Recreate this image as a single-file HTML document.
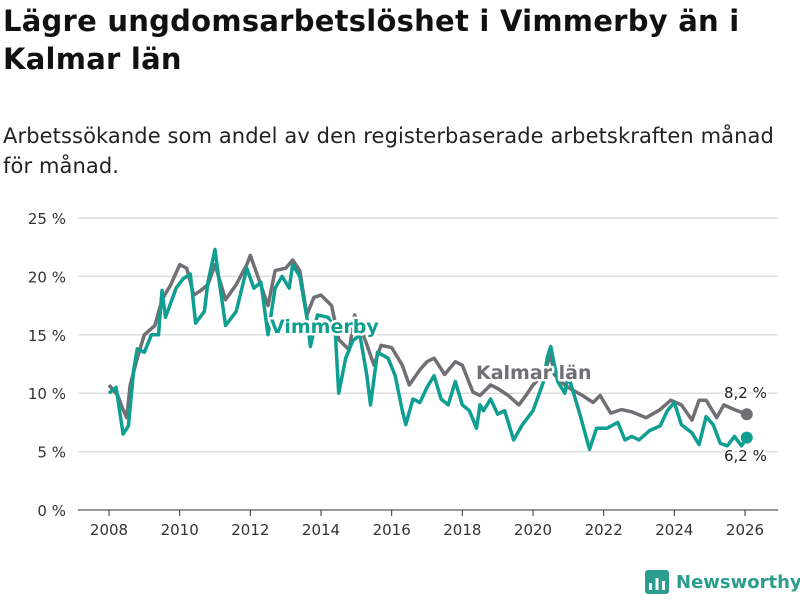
<!DOCTYPE html>
<html><head><meta charset="utf-8"><style>
body{margin:0;width:800px;height:600px;background:#fff;font-family:"DejaVu Sans","Liberation Sans",sans-serif;overflow:hidden;position:relative}
h1{position:absolute;left:3px;top:2px;margin:0;font-size:29px;line-height:38px;font-weight:bold;color:#111;letter-spacing:0.25px}
p{position:absolute;left:3px;top:121px;margin:0;font-size:21px;line-height:30px;color:#222;width:795px;letter-spacing:0.1px}
svg{position:absolute;left:0;top:0}
</style></head><body>
<h1>Lägre ungdomsarbetslöshet i Vimmerby än i<br>Kalmar län</h1>
<p>Arbetssökande som andel av den registerbaserade arbetskraften månad<br>för månad.</p>
<svg id="c" width="800" height="600"></svg>
<script>
const yTicks=[0,5,10,15,20,25];
const xTicks=[2008,2010,2012,2014,2016,2018,2020,2022,2024,2026];
const kalmarT=[2008,2008.25,2008.4,2008.5,2008.6,2008.8,2009,2009.3,2009.5,2009.75,2010,2010.2,2010.4,2010.6,2010.8,2011,2011.3,2011.6,2011.9,2012,2012.2,2012.5,2012.7,2013,2013.2,2013.4,2013.6,2013.8,2014,2014.3,2014.5,2014.8,2014.95,2015.2,2015.5,2015.7,2016,2016.3,2016.5,2016.8,2017,2017.2,2017.5,2017.8,2018,2018.3,2018.5,2018.8,2019,2019.3,2019.6,2019.8,2020,2020.3,2020.5,2020.6,2020.9,2021.1,2021.4,2021.7,2021.9,2022.2,2022.5,2022.8,2023.2,2023.6,2023.9,2024.2,2024.5,2024.7,2024.9,2025.2,2025.4,2025.7,2026.05];
const kalmarV=[10.7,9.8,8.6,7.9,10.7,13,15,15.8,18,19.3,21,20.7,18.4,18.8,19.3,21,18,19.3,21,21.8,20.1,17.5,20.5,20.7,21.4,20.5,16.7,18.2,18.4,17.5,14.6,13.7,16.7,15,12.4,14.1,13.9,12.4,10.7,12,12.7,13,11.6,12.7,12.4,10.1,9.8,10.7,10.4,9.8,9,9.8,10.7,11.6,13.3,11.6,10.7,10.3,9.8,9.2,9.8,8.3,8.6,8.4,7.9,8.6,9.4,9,7.7,9.4,9.4,7.9,9,8.6,8.2];
const vimT=[2008,2008.2,2008.4,2008.55,2008.7,2008.8,2009,2009.2,2009.4,2009.5,2009.6,2009.9,2010.1,2010.3,2010.45,2010.7,2010.8,2011,2011.1,2011.3,2011.6,2011.9,2012.1,2012.3,2012.5,2012.7,2012.9,2013.1,2013.2,2013.4,2013.6,2013.7,2013.9,2014.2,2014.4,2014.5,2014.7,2014.9,2015.1,2015.3,2015.4,2015.6,2015.9,2016.1,2016.3,2016.4,2016.6,2016.8,2017,2017.2,2017.4,2017.6,2017.8,2018,2018.2,2018.4,2018.5,2018.6,2018.8,2019,2019.2,2019.45,2019.7,2020,2020.3,2020.4,2020.5,2020.7,2020.9,2021,2021.3,2021.6,2021.8,2022.1,2022.4,2022.6,2022.8,2023,2023.3,2023.6,2023.8,2024,2024.2,2024.5,2024.7,2024.9,2025.1,2025.3,2025.5,2025.7,2025.9,2026.05];
const vimV=[10,10.5,6.5,7.2,12,13.8,13.5,15,15,18.8,16.5,19,19.8,20.2,16,17,19.5,22.3,20,15.8,17,20.7,19,19.5,15,19,20,19,21,20,16.5,14,16.7,16.5,15.5,10,13,14.5,15,11.5,9,13.5,13,11.5,8.5,7.3,9.5,9.2,10.5,11.5,9.5,9,11,9,8.5,7,9,8.5,9.5,8.2,8.5,6,7.3,8.5,11,13,14,11,10,11.5,8.5,5.2,7,7,7.5,6,6.3,6,6.8,7.2,8.5,9.2,7.3,6.6,5.6,8,7.3,5.7,5.5,6.3,5.5,6.2];
const NS='http://www.w3.org/2000/svg';
const svg=document.getElementById('c');
const X=t=>109+(t-2008)*(745-109)/18;
const Y=v=>510-v*(510-218)/25;
function el(tag,attrs,parent){const e=document.createElementNS(NS,tag);for(const k in attrs)e.setAttribute(k,attrs[k]);(parent||svg).appendChild(e);return e;}
yTicks.forEach(v=>{
  const l=el('line',{x1:78,x2:778,y1:Y(v),y2:Y(v),stroke:v===0?'#333':'#ddd','stroke-width':v===0?1:1.5});
  
  
  const t=el('text',{x:66,y:Y(v)+6,'text-anchor':'end','font-size':15,fill:'#333'});t.textContent=v+' %';
  
  
});
xTicks.forEach(y=>{
  const l=el('line',{x1:X(y),x2:X(y),y1:510,y2:516,stroke:'#333'});
  
  
  const t=el('text',{x:X(y),y:535,'text-anchor':'middle','font-size':15,fill:'#333'});t.textContent=y;
  
  
});
function line(T,V,color,name){
  const d=T.map((t,i)=>(i?'L':'M')+X(t).toFixed(1)+','+Y(V[i]).toFixed(1)).join('');
  const p=el('path',{d,fill:'none',stroke:color,'stroke-width':3.5,'stroke-linejoin':'round'});
  
  
  const c=el('circle',{cx:X(T[T.length-1]),cy:Y(V[V.length-1]),r:6,fill:color});
  
  
}
line(kalmarT,kalmarV,'#716f74','kalmar');
line(vimT,vimV,'#0f9e92','vimmerby');
function lab(x,y,txt,col,name,size,bold){
  const t=el('text',{x,y,'font-size':size,'font-weight':bold?'bold':'normal',fill:col,stroke:'#fff','stroke-width':bold?5:4,'paint-order':'stroke','stroke-linejoin':'round'});
  t.textContent=txt;
  
  
}
lab(270,333,'Vimmerby','#0f9e92','vimmerby-label',19,true);
lab(476,379,'Kalmar län','#716f74','kalmar-label',19,true);
lab(724,398,'8,2 %','#222','kalmar-end-value',15,false);
lab(724,461,'6,2 %','#222','vimmerby-end-value',15,false);
</script>
<div style="position:absolute;left:645px;top:570px;display:flex;align-items:center">
<svg width="24" height="24" style="position:static"><rect x="0" y="0" width="24" height="24" rx="3" fill="#2b9d8f"/><rect x="4" y="13" width="3" height="7" fill="#fff"/><rect x="10.5" y="8" width="3" height="12" fill="#fff"/><rect x="17" y="11" width="3" height="9" fill="#fff"/></svg>
<span style="margin-left:7px;font-size:18px;font-weight:bold;color:#2b9d8f">Newsworthy</span></div>
</body></html>
